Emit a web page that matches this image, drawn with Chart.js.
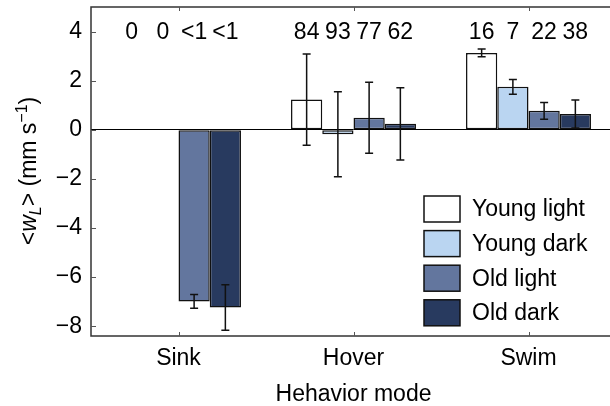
<!DOCTYPE html>
<html>
<head>
<meta charset="utf-8">
<script src="https://cdn.jsdelivr.net/npm/chart.js@4"></script>
<style>
  html, body { margin: 0; padding: 0; background: #fff; overflow: hidden; }
  #wrap { width: 620px; height: 406px; }
</style>
</head>
<body>
<div id="wrap"><canvas id="chart" width="620" height="406"></canvas></div>
<script>
// behaviour modes on the x axis
const modes = ['Sink', 'Hover', 'Swim'];
const groups = ['Young light', 'Young dark', 'Old light', 'Old dark'];

// mean vertical speed <w_L> (mm s-1)
const youngLight = [0, 1.23, 3.13];
const youngDark = [0, -0.18, 1.75];
const oldLight = [-6.99, 0.49, 0.77];
const oldDark = [-7.24, 0.24, 0.64];

// error bar half-lengths
const youngLightErr = [0, 1.86, 0.16];
const youngDarkErr = [0, 1.73, 0.30];
const oldLightErr = [0.28, 1.45, 0.34];
const oldDarkErr = [0.93, 1.47, 0.57];

// percentages written above each bar
const youngLightPct = ['0', '84', '16'];
const youngDarkPct = ['0', '93', '7'];
const oldLightPct = ['<1', '77', '22'];
const oldDarkPct = ['<1', '62', '38'];
const pctLevel = 4;

const colors = ['#ffffff', '#bad5f1', '#63769e', '#283a5f'];
const FONT = 'Liberation Sans, Arial, Helvetica, sans-serif';
const SIZE = 23;

function makeSet(i, data, errors, pcts) {
  return {
    label: groups[i],
    data: data,
    errors: errors,
    pcts: pcts,
    backgroundColor: colors[i],
    borderColor: '#111',
    borderWidth: 1.5,
    borderSkipped: false
  };
}

// error bars + percentages over the bars
const errorBars = {
  id: 'errorBars',
  afterDatasetsDraw(chart) {
    const ctx = chart.ctx;
    const y = chart.scales.y;
    ctx.save();
    ctx.strokeStyle = '#111';
    ctx.lineWidth = 1.5;
    ctx.fillStyle = '#000';
    ctx.font = SIZE + 'px ' + FONT;
    ctx.textAlign = 'center';
    ctx.textBaseline = 'middle';
    chart.data.datasets.forEach((ds, i) => {
      chart.getDatasetMeta(i).data.forEach((bar, j) => {
        ctx.fillText(ds.pcts[j], bar.x, y.getPixelForValue(pctLevel) + 1);
        const e = ds.errors[j];
        if (!e) return;
        const top = y.getPixelForValue(ds.data[j] + e);
        const bot = y.getPixelForValue(ds.data[j] - e);
        ctx.beginPath();
        ctx.moveTo(bar.x, top); ctx.lineTo(bar.x, bot);
        ctx.moveTo(bar.x - 4, top); ctx.lineTo(bar.x + 4, top);
        ctx.moveTo(bar.x - 4, bot); ctx.lineTo(bar.x + 4, bot);
        ctx.stroke();
      });
    });
    ctx.restore();
  }
};

// axes box with inward ticks, legend and y title
const frame = {
  id: 'frame',
  afterDraw(chart) {
    const ctx = chart.ctx;
    const a = chart.chartArea;
    const x = chart.scales.x, y = chart.scales.y;
    ctx.save();
    ctx.strokeStyle = '#333';
    ctx.lineWidth = 1.5;
    ctx.strokeRect(a.left, a.top, a.right - a.left, a.bottom - a.top);

    ctx.lineWidth = 1;
    ctx.strokeStyle = '#555';
    ctx.beginPath();
    y.ticks.forEach(t => {
      const py = Math.round(y.getPixelForValue(t.value)) + 0.5;
      ctx.moveTo(a.left, py); ctx.lineTo(a.left + 5, py);
    });
    modes.forEach((m, i) => {
      const px = Math.round(x.getPixelForValue(i)) + 0.5;
      ctx.moveTo(px, a.bottom); ctx.lineTo(px, a.bottom - 4);
      ctx.moveTo(px, a.top); ctx.lineTo(px, a.top + 4);
    });
    ctx.stroke();

    // legend
    ctx.font = SIZE + 'px ' + FONT;
    ctx.textAlign = 'left';
    ctx.textBaseline = 'middle';
    chart.data.datasets.forEach((ds, i) => {
      const top = 196 + i * 34.6;
      ctx.fillStyle = ds.backgroundColor;
      ctx.fillRect(424, top, 36, 26);
      ctx.strokeStyle = '#111';
      ctx.lineWidth = 1.5;
      ctx.strokeRect(424, top, 36, 26);
      ctx.fillStyle = '#000';
      ctx.fillText(ds.label, 472, top + 14);
    });

    // y title: <w_L> (mm s^-1)
    const parts = [
      { t: '<', f: SIZE + 'px ' + FONT, dy: 0 },
      { t: 'w', f: 'italic ' + SIZE + 'px ' + FONT, dy: 0 },
      { t: 'L', f: 'italic 16px ' + FONT, dy: 5 },
      { t: '> (mm s', f: SIZE + 'px ' + FONT, dy: 0 },
      { t: '\u22121', f: '16px ' + FONT, dy: -9 },
      { t: ')', f: SIZE + 'px ' + FONT, dy: 0 }
    ];
    let total = 0;
    parts.forEach(p => { ctx.font = p.f; p.w = ctx.measureText(p.t).width; total += p.w; });
    ctx.translate(36, 171);
    ctx.rotate(-Math.PI / 2);
    ctx.textBaseline = 'alphabetic';
    let cx = -total / 2;
    parts.forEach(p => {
      ctx.font = p.f;
      ctx.fillText(p.t, cx, p.dy);
      cx += p.w;
    });
    ctx.restore();
  }
};

document.addEventListener('DOMContentLoaded', () => {
  const ctx = document.getElementById('chart').getContext('2d');
  new Chart(ctx, {
    type: 'bar',
    data: {
      labels: modes,
      datasets: [
        makeSet(0, youngLight, youngLightErr, youngLightPct),
        makeSet(1, youngDark, youngDarkErr, youngDarkPct),
        makeSet(2, oldLight, oldLightErr, oldLightPct),
        makeSet(3, oldDark, oldDarkErr, oldDarkPct)
      ]
    },
    options: {
      responsive: false,
      devicePixelRatio: 1,
      animation: false,
      categoryPercentage: 0.714,
      barPercentage: 1.0,
      layout: { padding: { top: 7, right: 4, left: 0, bottom: 0 } },
      plugins: {
        legend: { display: false },
        tooltip: { enabled: false }
      },
      scales: {
        x: {
          grid: { display: false },
          border: { display: false },
          ticks: { color: '#000', font: { family: FONT, size: SIZE }, padding: 1 },
          title: {
            display: true,
            text: 'Hehavior mode',
            color: '#000',
            font: { family: FONT, size: SIZE },
            padding: { top: 0, bottom: -2 }
          },
          afterFit: s => { s.height = 70; s.paddingLeft = 0; s.paddingRight = 0; }
        },
        y: {
          min: -8.4,
          max: 5,
          border: { display: false },
          grid: {
            drawTicks: false,
            lineWidth: 1,
            color: c => (c.tick && c.tick.value === 0) ? '#000' : 'rgba(0,0,0,0)'
          },
          ticks: {
            stepSize: 2,
            includeBounds: false,
            color: '#000',
            padding: 9,
            font: { family: FONT, size: SIZE },
            callback: v => String(v).replace('-', '\u2212')
          },
          afterFit: s => { s.width = 91; s.paddingTop = 0; s.paddingBottom = 0; }
        }
      }
    },
    plugins: [errorBars, frame]
  });
});
</script>
</body>
</html>
